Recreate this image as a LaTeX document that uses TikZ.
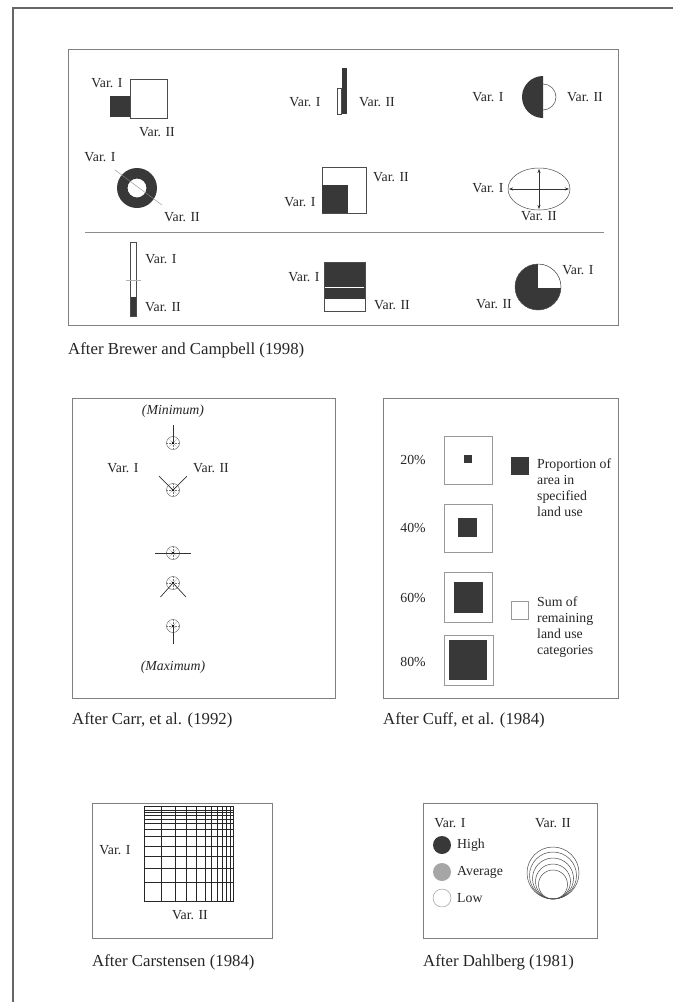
\documentclass[tikz,border=0pt]{standalone}
\usepackage{fontspec}
\setmainfont{Liberation Serif}
\usetikzlibrary{arrows.meta}
\begin{document}
\begin{tikzpicture}[x=1pt,y=-1pt,
  lbl/.style={font=\fontsize{13.8}{16}\selectfont, inner sep=0pt, text=black!85},
  captxt/.style={font=\fontsize{16.8}{19}\selectfont, inner sep=0pt, anchor=west, text=black!85},
  panel/.style={draw=black!50, line width=0.6pt},
  darkfill/.style={fill=black!78},
  outl/.style={draw=black!70, line width=0.5pt},
  faint/.style={draw=black!40, line width=0.4pt},
  raystyle/.style={draw=black!80, line width=0.7pt},
  gridline/.style={draw=black!85, line width=0.5pt},
  glyph/.style={circle, draw=black!70, line width=0.4pt, minimum size=13pt, inner sep=0pt,
    path picture={\foreach \a in {0,45,...,315}{\draw[black!55, line width=0.3pt, dash pattern=on 1pt off 0.7pt] (path picture bounding box.center) -- +(\a:6.5pt);}
      \fill[black] (path picture bounding box.center) circle[radius=1.3pt];}},
  arrowline/.style={draw=black!80, line width=0.4pt, -{Stealth[length=4pt,width=3pt]}}
]
\useasboundingbox (0,0) rectangle (673,1002);
\fill[white] (0,0) rectangle (673,1002);
% outer frame
\draw[black!60, line width=1.2pt] (13,1002) -- (13,8) -- (673,8);

% ===== Brewer and Campbell panel =====
\draw[panel] (68,49) rectangle (618,325);
\draw[black!45, line width=0.6pt] (85,232) -- (604,232);
\node[captxt] (capB) at (68,350) {After Brewer and Campbell (1998)};

% item 1: squares
\fill[darkfill] (110,96) rectangle (130,117);
\draw[outl] (130,79) rectangle (167,118);
\node[lbl] (b1a) at (107,83) {Var. I};
\node[lbl] (b1b) at (157,132) {Var. II};

% item 2: bars
\fill[darkfill] (341.5,68) rectangle (347,114);
\draw[outl] (337,88) rectangle (341.5,114);
\node[lbl] (b2a) at (305,102) {Var. I};
\node[lbl] (b2b) at (377,102) {Var. II};

% item 3: half circles
\begin{scope}
  \clip (520,70) rectangle (543,125);
  \fill[darkfill] (543,97) circle[radius=21pt];
\end{scope}
\begin{scope}
  \clip (543,70) rectangle (570,125);
  \draw[outl] (543,97) circle[radius=13pt];
\end{scope}
\node[lbl] (b3a) at (488,97) {Var. I};
\node[lbl] (b3b) at (585,97) {Var. II};

% item 4: donut
\fill[black!78, even odd rule] (137,188) circle[radius=20pt] (137,188) circle[radius=9.5pt];
\draw[black!45, line width=0.4pt] (115,170) -- (162,205);
\node[lbl] (b4a) at (100,157) {Var. I};
\node[lbl] (b4b) at (182,217) {Var. II};

% item 5: nested square
\draw[outl] (322,167) rectangle (366,213);
\fill[darkfill] (322,185) rectangle (348,213);
\node[lbl] (b5a) at (300,202) {Var. I};
\node[lbl] (b5b) at (391,177) {Var. II};

% item 6: ellipse with arrows
\draw[outl] (539,189) ellipse[x radius=31pt, y radius=21pt];
\coordinate (ec) at (539,189);
\coordinate (eu) at (539,169);
\coordinate (ed) at (539,209);
\coordinate (el) at (509,189);
\coordinate (er) at (569,189);
\draw[arrowline] (ec) -- (eu);
\draw[arrowline] (ec) -- (ed);
\draw[arrowline] (ec) -- (el);
\draw[arrowline] (ec) -- (er);
\node[lbl] (b6a) at (488,188) {Var. I};
\node[lbl] (b6b) at (539,216) {Var. II};

% item 7: thermometer bar
\fill[darkfill] (130,297) rectangle (136,316);
\draw[outl] (130,242) rectangle (136,316);
\draw[black!30, line width=0.4pt] (126,280) -- (141,280);
\node[lbl] (b7a) at (161,259) {Var. I};
\node[lbl] (b7b) at (163,307) {Var. II};

% item 8: stacked bar
\fill[darkfill] (324,262) rectangle (365,299);
\draw[white, line width=0.6pt] (325,287) -- (364,287);
\draw[outl] (324,262) rectangle (365,311);
\node[lbl] (b8a) at (304,277) {Var. I};
\node[lbl] (b8b) at (392,305) {Var. II};

% item 9: pie
\fill[darkfill] (538,287) circle[radius=23pt];
\begin{scope}
  \clip (538,262) rectangle (563,287);
  \fill[white] (538,287) circle[radius=23pt];
\end{scope}
\draw[outl] (538,287) circle[radius=23pt];
\node[lbl] (b9a) at (578,270) {Var. I};
\node[lbl] (b9b) at (494,304) {Var. II};

% ===== Carr panel =====
\draw[panel] (72,398) rectangle (335,698);
\node[captxt] (capC) at (72,720) {After Carr, et al. (1992)};
\node[lbl, font=\fontsize{13.8}{16}\selectfont\itshape] (cmin) at (173,411) {(Minimum)};
\node[lbl, font=\fontsize{13.8}{16}\selectfont\itshape] (cmax) at (173,667) {(Maximum)};
\node[lbl] (cva) at (123,468) {Var. I};
\node[lbl] (cvb) at (211,468) {Var. II};

\node[glyph] (g1) at (173,443) {};
\node[glyph] (g2) at (173,490) {};
\node[glyph] (g3) at (173,553) {};
\node[glyph] (g4) at (173,583) {};
\node[glyph] (g5) at (173,626) {};
\coordinate (r1) at (173,425);
\coordinate (r2a) at (159,476);
\coordinate (r2b) at (187,476);
\coordinate (r3a) at (155,553);
\coordinate (r3b) at (191,553);
\coordinate (r4a) at (160.5,597);
\coordinate (r4b) at (186,597);
\coordinate (r5) at (173,644);
\draw[raystyle] (g1.center) -- (r1);
\draw[raystyle] (g2.center) -- (r2a);
\draw[raystyle] (g2.center) -- (r2b);
\draw[raystyle] (r3a) -- (r3b);
\draw[raystyle] (g4.center) -- (r4a);
\draw[raystyle] (g4.center) -- (r4b);
\draw[raystyle] (g5.center) -- (r5);

% ===== Cuff panel =====
\draw[panel] (383,398) rectangle (618,698);
\node[captxt] (capD) at (383,720) {After Cuff, et al. (1984)};
\draw[faint] (444,436) rectangle (492,484);
\fill[darkfill] (464,455) rectangle (472,463);
\draw[faint] (444,504) rectangle (492,552);
\fill[darkfill] (458,518) rectangle (477,537);
\draw[faint] (444,572) rectangle (492,622);
\fill[darkfill] (454,582) rectangle (483,613);
\draw[faint] (444,635) rectangle (493,685);
\fill[darkfill] (449,640) rectangle (487,680);
\node[lbl] (p20) at (413,460) {20\%};
\node[lbl] (p40) at (413,528) {40\%};
\node[lbl] (p60) at (413,598) {60\%};
\node[lbl] (p80) at (413,662) {80\%};
\fill[darkfill] (511,457) rectangle (529,475);
\draw[faint] (511,601) rectangle (528,619);
\node[lbl, align=left, anchor=north west, font=\fontsize{13.8}{16}\selectfont] (prop) at (537,459) {Proportion of\\area in\\specified\\land use};
\node[lbl, align=left, anchor=north west, font=\fontsize{13.8}{16}\selectfont] (sum) at (537,597) {Sum of\\remaining\\land use\\categories};

% ===== Carstensen panel =====
\draw[panel] (92,803) rectangle (272,938);
\node[captxt] (capE) at (92,962) {After Carstensen (1984)};
\foreach \gx in {161.7,175,186,196,205,211.7,217.7,222.7,226.7,230}
  \draw[gridline] (\gx,806.7) -- (\gx,901.7);
\foreach \gy in {810,812.7,815.7,819,823.3,829.3,836.7,846,856.7,868.3,882.7}
  \draw[gridline] (144,\gy) -- (233.3,\gy);
\draw[black!85, line width=1pt] (144,806.7) rectangle (233.3,901.7);
\node[lbl] (e1) at (115,850) {Var. I};
\node[lbl] (e2) at (190,915) {Var. II};

% ===== Dahlberg panel =====
\draw[panel] (423,803) rectangle (597,938);
\node[captxt] (capF) at (423,962) {After Dahlberg (1981)};
\node[lbl] (d1) at (450,823) {Var. I};
\node[lbl] (d2) at (553,823) {Var. II};
\fill[black!78] (442,845) circle[radius=9pt];
\fill[black!35] (442,872) circle[radius=9pt];
\draw[black!45, line width=0.4pt] (442,898) circle[radius=9pt];
\node[lbl, anchor=west] (dh) at (457,845) {High};
\node[lbl, anchor=west] (da) at (457,872) {Average};
\node[lbl, anchor=west] (dl) at (457,898) {Low};
\foreach \r in {26,23.5,20.5,17.5,14.5}
  \draw[outl] (553,{899-\r}) circle[radius=\r pt];
\end{tikzpicture}
\end{document}
